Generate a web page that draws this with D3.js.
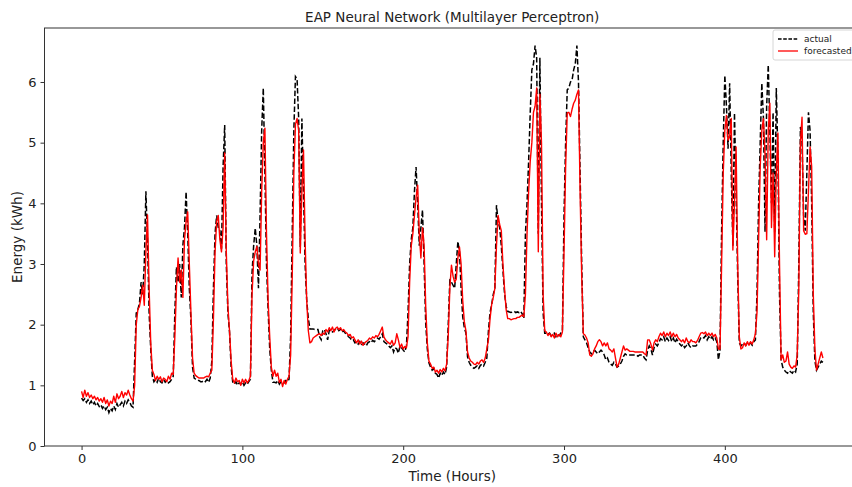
<!DOCTYPE html>
<html>
<head>
<meta charset="utf-8">
<script src="https://cdn.jsdelivr.net/npm/d3@7"></script>
<style>
  html, body { margin: 0; padding: 0; background: #fff; overflow: hidden; }
  svg { display: block; font-family: "DejaVu Sans", sans-serif; }
</style>
</head>
<body>
<svg id="chart" width="852" height="487"></svg>
<script>
// Hourly energy use (kWh): measured values, one per hour
const actual = [
  0.79,0.75,0.78,0.72,0.76,0.70,0.74,0.68,0.72,0.66,0.70,0.65,0.68,0.62,0.66,0.60,0.64,0.55,0.62,0.58,0.66,0.60,0.70,0.64,0.68,0.72,0.66,0.74,0.70,0.76,0.72,0.66,0.64,
  1.40,2.19,2.25,2.35,2.70,2.50,3.00,4.20,3.40,2.20,1.60,1.15,
  1.06,1.10,1.05,1.12,1.06,1.04,1.10,1.05,1.08,1.04,1.06,1.10,1.15,
  2.20,2.95,2.70,3.00,2.45,3.31,3.60,4.19,3.50,2.60,2.08,1.30,
  1.12,1.10,1.08,1.08,1.06,1.06,1.08,1.06,1.10,1.05,1.12,
  1.40,2.60,3.50,3.80,3.60,3.55,3.25,4.60,5.29,3.00,2.19,1.88,1.30,
  1.05,1.02,1.06,1.00,1.04,1.02,1.06,1.00,1.04,1.02,1.06,1.10,
  2.85,3.30,3.59,3.30,2.60,3.80,5.20,5.90,4.50,3.00,2.24,1.60,1.25,1.05,
  1.05,1.04,1.08,1.02,1.06,1.05,1.04,1.08,1.06,1.10,
  1.80,3.50,5.20,6.09,6.05,5.40,3.28,5.40,4.20,3.00,2.40,2.10,1.93,
  1.93,1.93,1.92,1.92,1.92,1.80,1.75,1.90,1.92,1.85,1.75,1.90,1.92,1.88,1.90,1.93,1.95,1.90,1.92,1.88,1.90,1.86,1.84,
  1.80,1.78,1.74,1.75,1.70,1.72,1.68,1.72,1.66,1.70,1.68,1.65,1.70,1.72,1.70,1.74,1.72,
  1.75,1.78,1.76,1.80,1.85,1.72,1.70,1.68,1.65,1.62,1.65,1.55,1.62,1.60,1.53,1.65,1.62,1.58,1.55,1.65,
  2.20,3.00,3.40,3.60,4.20,4.60,4.00,3.30,3.60,3.89,3.00,2.02,1.60,1.37,
  1.30,1.25,1.28,1.20,1.18,1.12,1.20,1.16,1.22,1.18,1.30,
  2.00,2.73,2.70,2.65,2.60,3.00,3.37,3.20,2.60,2.13,1.95,1.86,1.47,
  1.38,1.33,1.30,1.28,1.30,1.32,1.28,1.33,1.35,1.32,1.38,1.45,
  1.90,2.20,2.33,2.50,2.60,3.97,3.70,3.60,3.30,2.90,2.52,2.30,2.22,
  2.21,2.20,2.21,2.22,2.20,2.21,2.20,2.22,2.18,2.10,
  3.50,4.00,4.70,5.50,6.20,6.30,6.60,6.40,3.50,6.40,4.00,2.20,1.86,
  1.86,1.84,1.86,1.82,1.84,1.86,1.80,1.84,1.82,1.86,1.90,
  3.80,5.00,5.87,5.90,6.00,6.03,6.20,6.30,6.60,6.00,4.50,3.00,1.80,
  1.75,1.70,1.62, 1.55,1.52,1.55, 1.58,1.55,1.52, 1.55,1.58,1.55,
  1.50,1.42,1.45,1.38,1.35,1.33,1.38,1.35, 1.30,1.32,1.35,1.40,
  1.48,1.52,1.50,1.50,1.50,1.50,1.50,1.50,1.50,1.48,1.50,1.50,1.50,
  1.45,1.42,1.58, 1.65,1.60,1.50,1.62,1.68,1.65,1.70,
  1.77,1.75,1.80,1.72,1.78,1.74,1.80,1.72,1.78,1.70,1.76,1.72,1.68,
  1.65,1.68,1.62,1.65,1.70,1.65,1.62,1.65,1.65,1.65,1.68,1.72,1.78,
  1.80,1.78,1.82,1.75,1.80,1.76,1.80,1.75,1.78,1.72,1.42,
  1.58,3.56,5.00,6.11,5.60,4.90,5.98,4.50,3.30,5.49,4.20,2.80,1.70,1.65,
  1.68,1.70,1.66,1.70,1.68,1.70,1.66,1.72,1.75,
  2.50,4.00,5.00,5.98,5.40,3.53,5.60,6.28,5.20,4.00,5.50,3.53,5.90,4.80,2.50,
  1.42,1.30,1.25,1.22,1.20,1.24,1.22,1.20,1.25,1.22,1.35,
  3.00,5.26,5.00,3.80,3.55,4.50,5.50,5.20,4.00,2.20,1.40,1.25,1.30,1.35,1.40,1.38
];

// Model output (kWh) for the same hours
const forecasted = [
  0.90,0.80,0.92,0.82,0.88,0.80,0.84,0.78,0.82,0.76,0.80,0.74,0.78,0.72,0.80,0.70,0.76,0.66,0.74,0.70,0.82,0.72,0.86,0.78,0.82,0.90,0.80,0.88,0.84,0.92,0.84,0.78,0.74,
  1.00,2.00,2.25,2.30,2.45,2.65,2.32,3.20,3.81,2.60,1.70,1.25,
  1.18,1.08,1.15,1.10,1.14,1.06,1.12,1.10,1.06,1.15,1.10,1.20,1.18,
  1.80,2.60,3.10,2.70,2.90,2.45,3.40,3.70,3.86,3.00,2.20,1.45,
  1.20,1.16,1.14,1.12,1.12,1.12,1.12,1.14,1.15,1.14,1.20,
  1.25,2.10,3.20,3.70,3.80,3.40,3.20,3.60,4.83,3.20,2.30,1.90,1.40,
  1.10,1.04,1.12,1.06,1.08,1.00,1.10,1.04,1.10,1.04,1.08,1.15,
  2.50,3.05,3.20,3.29,3.00,2.90,4.20,5.00,5.24,3.50,2.40,1.80,1.30,1.15,
  1.25,1.15,1.20,1.05,1.10,0.98,1.08,1.02,1.10,1.15,
  1.50,2.80,4.50,5.30,5.40,5.20,3.18,4.20,4.88,3.40,2.40,1.90,1.70,
  1.72,1.78,1.80,1.82,1.84,1.85,1.82,1.86,1.84,1.92,1.88,1.95,1.90,1.96,1.88,1.94,1.96,1.92,1.95,1.90,1.92,1.88,1.86,
  1.82,1.84,1.78,1.80,1.75,1.70,1.75,1.68,1.73,1.66,1.70,1.72,1.74,1.78,1.76,1.80,1.78,
  1.82,1.80,1.84,1.90,1.96,1.80,1.75,1.72,1.70,1.68,1.74,1.66,1.70,1.85,1.75,1.62,1.68,1.60,1.64,1.62,
  1.80,2.70,3.30,3.50,3.80,4.10,4.30,3.50,3.10,3.60,3.30,2.30,1.70,1.40,
  1.35,1.28,1.30,1.22,1.25,1.20,1.26,1.22,1.28,1.24,1.35,
  1.80,2.60,2.98,2.80,2.70,2.75,3.10,3.28,3.00,2.40,2.05,1.90,1.55,
  1.45,1.40,1.38,1.35,1.34,1.38,1.35,1.40,1.42,1.38,1.45,1.60,
  1.75,2.10,2.33,2.45,2.60,3.30,3.80,3.65,3.55,3.00,2.60,2.25,2.10,
  2.10,2.08,2.09,2.10,2.10,2.12,2.12,2.14,2.16,2.13,
  2.50,3.50,4.20,4.70,5.00,5.50,5.60,5.90,3.20,5.80,5.00,2.50,1.90,
  1.88,1.82,1.86,1.80,1.84,1.78,1.86,1.80,1.84,1.80,1.88,
  3.20,4.60,5.49,5.50,5.43,5.55,5.65,5.70,5.80,5.87,4.20,2.80,1.85,
  1.83,1.78,1.70, 1.50,1.48,1.52, 1.60,1.65,1.72, 1.75,1.72,1.65,
  1.70,1.65,1.70,1.60,1.58,1.55,1.60,1.45, 1.30,1.35,1.45,1.55,
  1.65,1.58,1.60,1.58,1.56,1.56,1.56,1.55,1.55,1.55,1.55,1.55,1.55,
  1.52,1.50,1.75, 1.75,1.68,1.58,1.70,1.75,1.72,1.80,
  1.86,1.82,1.88,1.80,1.86,1.82,1.88,1.80,1.86,1.80,1.84,1.78,1.75,
  1.72,1.75,1.70,1.78,1.72,1.70,1.75,1.72,1.72,1.70,1.74,1.80,1.86,
  1.87,1.85,1.88,1.82,1.86,1.82,1.86,1.80,1.84,1.78,1.60,
  1.60,3.00,4.50,5.20,5.45,5.04,5.10,5.40,3.23,4.00,4.93,3.00,1.80,1.60,
  1.62,1.70,1.65,1.72,1.66,1.72,1.68,1.75,1.85,
  2.20,3.40,4.60,5.20,5.40,4.80,3.40,5.20,5.65,3.60,4.50,3.12,4.50,5.16,3.00,
  1.42,1.50,1.38,1.40,1.55,1.35,1.30,1.28,1.32,1.30,1.50,
  2.60,5.00,5.42,3.55,3.49,3.50,4.20,4.93,4.60,2.50,1.60,1.25,1.35,1.45,1.55,1.45
];

const xTicks = [0, 100, 200, 300, 400];
const yTicks = [0, 1, 2, 3, 4, 5, 6];
const seriesNames = ["actual", "forecasted"];

const svg = d3.select("#chart");
const plot = { left: 44.5, right: 860, top: 28, bottom: 446 };

const n = actual.length;
const pad = (n - 1) * 0.05;
const x = d3.scaleLinear().domain([-pad, n - 1 + pad]).range([plot.left, plot.right]);
const y = d3.scaleLinear().domain([0, 6.89]).range([plot.bottom, plot.top]);

// plotted series
const line = d3.line().x((d, i) => x(i)).y(d => y(d));

const lines = svg.append("g");
lines.append("path")
  .datum(actual)
  .attr("fill", "none")
  .attr("stroke", "#000")
  .attr("stroke-width", 1.5)
  .attr("stroke-dasharray", "5.5,2.4")
  .attr("d", line);
lines.append("path")
  .datum(forecasted)
  .attr("fill", "none")
  .attr("stroke", "#ff0000")
  .attr("stroke-width", 1.4)
  .attr("stroke-linejoin", "round")
  .attr("d", line);

// frame
svg.append("rect")
  .attr("x", plot.left).attr("y", plot.top)
  .attr("width", plot.right - plot.left).attr("height", plot.bottom - plot.top)
  .attr("fill", "none").attr("stroke", "#333").attr("stroke-width", 1);

// axes
const xAxis = d3.axisBottom(x).tickValues(xTicks).tickFormat(d3.format("d")).tickSize(4).tickPadding(4);
const yAxis = d3.axisLeft(y).tickValues(yTicks).tickFormat(d3.format("d")).tickSize(4).tickPadding(4);

const gx = svg.append("g").attr("transform", `translate(0,${plot.bottom})`).call(xAxis);
const gy = svg.append("g").attr("transform", `translate(${plot.left},0)`).call(yAxis);
[gx, gy].forEach(g => {
  g.select(".domain").remove();
  g.selectAll(".tick line").attr("stroke", "#333");
  g.selectAll(".tick text").attr("fill", "#222").style("font-size", "13px")
    .style("font-family", "DejaVu Sans, sans-serif");
});

// labels
svg.append("text")
  .attr("x", (plot.left + plot.right) / 2).attr("y", 22)
  .attr("text-anchor", "middle").attr("fill", "#222")
  .style("font-size", "13.5px")
  .text("EAP Neural Network (Multilayer Perceptron)");
svg.append("text")
  .attr("x", (plot.left + plot.right) / 2).attr("y", 481)
  .attr("text-anchor", "middle").attr("fill", "#222")
  .style("font-size", "13.5px")
  .text("Time (Hours)");
svg.append("text")
  .attr("transform", `translate(22,${(plot.top + plot.bottom) / 2}) rotate(-90)`)
  .attr("text-anchor", "middle").attr("fill", "#222")
  .style("font-size", "13.5px")
  .text("Energy (kWh)");

// legend
const lg = svg.append("g").attr("transform", "translate(773,30)");
lg.append("rect")
  .attr("x", 0).attr("y", 0).attr("width", 95).attr("height", 30).attr("rx", 2)
  .attr("fill", "#fff").attr("fill-opacity", 0.85)
  .attr("stroke", "#ccc").attr("stroke-width", 0.8);
const styles = [
  { stroke: "#000", dash: "3.6,1.6", w: 1.3 },
  { stroke: "#ff0000", dash: null, w: 1.3 }
];
seriesNames.forEach((name, i) => {
  const yy = 9 + i * 12;
  lg.append("line")
    .attr("x1", 5).attr("x2", 25).attr("y1", yy).attr("y2", yy)
    .attr("stroke", styles[i].stroke).attr("stroke-width", styles[i].w)
    .attr("stroke-dasharray", styles[i].dash);
  lg.append("text")
    .attr("x", 31).attr("y", yy + 3)
    .attr("fill", "#222").style("font-size", "9px")
    .text(name);
});
</script>
</body>
</html>
